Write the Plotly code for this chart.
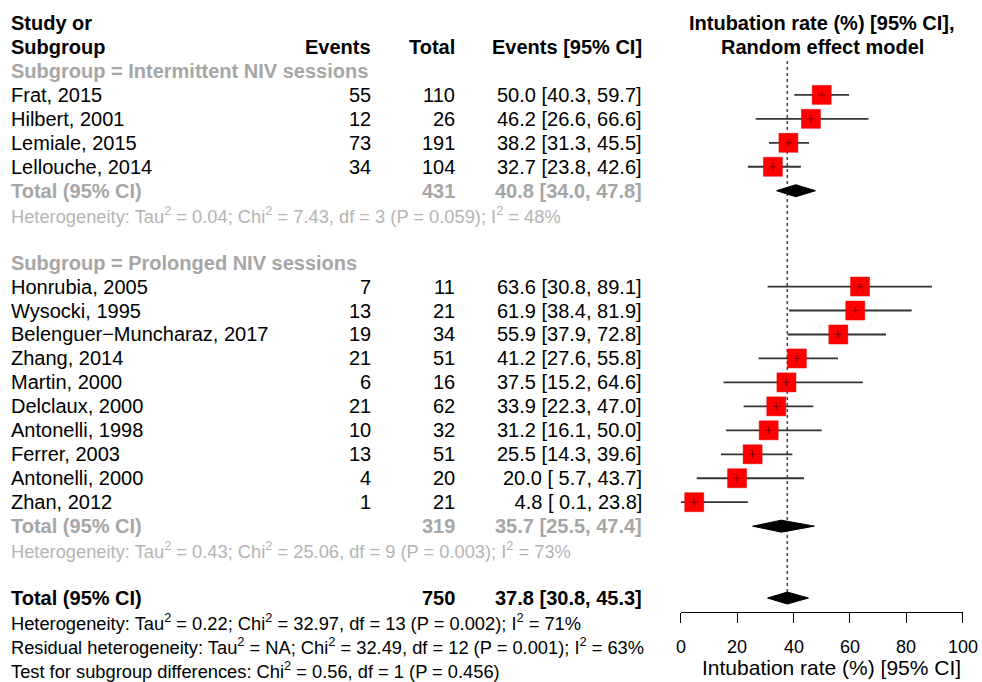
import plotly.graph_objects as go

# ---------------- data ----------------
studies1 = ["Frat, 2015", "Hilbert, 2001", "Lemiale, 2015", "Lellouche, 2014"]
events1 = [55, 12, 73, 34]
total1 = [110, 26, 191, 104]
est1 = [50.0, 46.2, 38.2, 32.7]
lo1 = [40.3, 26.6, 31.3, 23.8]
hi1 = [59.7, 66.6, 45.5, 42.6]

studies2 = ["Honrubia, 2005", "Wysocki, 1995", "Belenguer\u2212Muncharaz, 2017", "Zhang, 2014",
            "Martin, 2000", "Delclaux, 2000", "Antonelli, 1998", "Ferrer, 2003",
            "Antonelli, 2000", "Zhan, 2012"]
events2 = [7, 13, 19, 21, 6, 21, 10, 13, 4, 1]
total2 = [11, 21, 34, 51, 16, 62, 32, 51, 20, 21]
est2 = [63.6, 61.9, 55.9, 41.2, 37.5, 33.9, 31.2, 25.5, 20.0, 4.8]
lo2 = [30.8, 38.4, 37.9, 27.6, 15.2, 22.3, 16.1, 14.3, 5.7, 0.1]
hi2 = [89.1, 81.9, 72.8, 55.8, 64.6, 47.0, 50.0, 39.6, 43.7, 23.8]

sub_labels = ["Subgroup = Intermittent NIV sessions", "Subgroup = Prolonged NIV sessions"]
sub_total = [431, 319]
sub_est = [40.8, 35.7]
sub_lo = [34.0, 25.5]
sub_hi = [47.8, 47.4]
sub_het = [
    "Heterogeneity: Tau<sup>2</sup> = 0.04; Chi<sup>2</sup> = 7.43, df = 3 (P = 0.059); I<sup>2</sup> = 48%",
    "Heterogeneity: Tau<sup>2</sup> = 0.43; Chi<sup>2</sup> = 25.06, df = 9 (P = 0.003); I<sup>2</sup> = 73%",
]

all_total = 750
all_est = 37.8
all_lo = 30.8
all_hi = 45.3
bottom_lines = [
    "Heterogeneity: Tau<sup>2</sup> = 0.22; Chi<sup>2</sup> = 32.97, df = 13 (P = 0.002); I<sup>2</sup> = 71%",
    "Residual heterogeneity: Tau<sup>2</sup> = NA; Chi<sup>2</sup> = 32.49, df = 12 (P = 0.001); I<sup>2</sup> = 63%",
    "Test for subgroup differences: Chi<sup>2</sup> = 0.56, df = 1 (P = 0.456)",
]
x_ticks = [0, 20, 40, 60, 80, 100]

# ---------------- layout geometry ----------------
W, H = 982, 682
ROW0, ROWH = 23.0, 23.96          # pixel y of row 0, row height
FONT = "Liberation Sans, Arial, Helvetica, sans-serif"
FS = 20
FS_HET = 18.3
GRAY = "#a6a6a6"
GRAY_HET = "#b4b4b4"
X_STUDY, X_EV, X_TOT, X_EST = 8.5, 372.5, 456.5, 644
X0PX, X100PX = 680.7, 962.7
AXIS_Y = 612

def fmt(e, l, h):
    return f"{e:4.1f} [{l:4.1f}, {h:4.1f}]"

def rowy(px):
    return (px - ROW0) / ROWH

ann = []
def txt(x, row, s, align="left", bold=False, color="black", size=FS):
    if bold:
        s = f"<b>{s}</b>"
    ann.append(dict(x=x / W, y=row, xref="paper", yref="y", text=s,
                    showarrow=False, xanchor=align, yanchor="middle",
                    font=dict(family=FONT, size=size, color=color)))

# headers
txt(X_STUDY, 0, "Study or", bold=True)
txt(X_STUDY, 1, "Subgroup", bold=True)
txt(X_EV, 1, "Events", "right", True)
txt(X_TOT, 1, "Total", "right", True)
txt(X_EST, 1, "Events [95% CI]", "right", True)
txt(822, 0, "Intubation rate (%) [95% CI],", "center", True)
txt(822, 1, "Random effect model", "center", True)

groups = [
    (studies1, events1, total1, est1, lo1, hi1),
    (studies2, events2, total2, est2, lo2, hi2),
]
start_rows = [2, 10]

ci_x, ci_y, pt_x, pt_y = [], [], [], []
dia = []
for g, (names, ev, tot, es, lo, hi) in enumerate(groups):
    r = start_rows[g]
    txt(X_STUDY, r, sub_labels[g], bold=True, color=GRAY)
    for i in range(len(names)):
        rr = r + 1 + i
        txt(X_STUDY, rr, names[i])
        txt(X_EV, rr, str(ev[i]), "right")
        txt(X_TOT, rr, str(tot[i]), "right")
        txt(X_EST, rr, fmt(es[i], lo[i], hi[i]), "right")
        ci_x += [lo[i], hi[i], None]
        ci_y += [rr, rr, None]
        pt_x.append(es[i])
        pt_y.append(rr)
    rt = r + 1 + len(names)
    txt(X_STUDY, rt, "Total (95% CI)", bold=True, color=GRAY)
    txt(X_TOT, rt, str(sub_total[g]), "right", True, GRAY)
    txt(X_EST, rt, fmt(sub_est[g], sub_lo[g], sub_hi[g]), "right", True, GRAY)
    txt(X_STUDY, rt + 1, sub_het[g], color=GRAY_HET, size=FS_HET)
    dia.append((sub_lo[g], sub_est[g], sub_hi[g], rt))

r_all = 24
txt(X_STUDY, r_all, "Total (95% CI)", bold=True)
txt(X_TOT, r_all, str(all_total), "right", True)
txt(X_EST, r_all, fmt(all_est, all_lo, all_hi), "right", True)
for k, s in enumerate(bottom_lines):
    txt(X_STUDY, r_all + 1 + k, s, size=FS_HET)
dia.append((all_lo, all_est, all_hi, r_all))

# axis title
txt(831, rowy(667), "Intubation rate (%) [95% CI]", "center", size=21)

# tick labels placed on the x scale
for t in x_ticks:
    ann.append(dict(x=t, y=rowy(647), xref="x", yref="y", text=str(t),
                    showarrow=False, xanchor="center", yanchor="middle",
                    font=dict(family=FONT, size=18, color="black")))

fig = go.Figure()

# reference (dotted) line at overall estimate
fig.add_trace(go.Scatter(x=[all_est, all_est], y=[rowy(61), r_all - 0.25], mode="lines",
                         line=dict(color="#444444", width=1.5, dash="dot"),
                         hoverinfo="skip", cliponaxis=False))
# CI lines
fig.add_trace(go.Scatter(x=ci_x, y=ci_y, mode="lines",
                         line=dict(color="#333333", width=1.8),
                         hoverinfo="skip", cliponaxis=False))
# squares
fig.add_trace(go.Scatter(x=pt_x, y=pt_y, mode="markers",
                         marker=dict(symbol="square", size=19, color="#ff0000",
                                     line=dict(color="#e00000", width=0.5)),
                         cliponaxis=False))
# centre crosses
fig.add_trace(go.Scatter(x=pt_x, y=pt_y, mode="markers",
                         marker=dict(symbol="cross-thin", size=5,
                                     line=dict(color="#800000", width=1)),
                         cliponaxis=False))
# diamonds
for lo, es, hi, rr in dia:
    fig.add_trace(go.Scatter(x=[lo, es, hi, es, lo], y=[rr, rr - 0.25, rr, rr + 0.25, rr],
                             mode="lines", fill="toself", fillcolor="black",
                             line=dict(color="black", width=1), cliponaxis=False,
                             hoverinfo="skip"))

fig.update_layout(
    width=W, height=H, autosize=False,
    margin=dict(l=0, r=0, t=0, b=0),
    paper_bgcolor="white", plot_bgcolor="white",
    showlegend=False,
    annotations=ann,
    xaxis=dict(domain=[X0PX / W, X100PX / W], range=[0, 100], anchor="free",
               position=1 - AXIS_Y / H, showline=True, linecolor="black", linewidth=1,
               ticks="outside", ticklen=10, tickwidth=1, tickcolor="black",
               tickvals=x_ticks, showticklabels=False,
               showgrid=False, zeroline=False, fixedrange=True),
    yaxis=dict(domain=[0, 1], range=[rowy(H), rowy(0)], visible=False,
               showgrid=False, zeroline=False, fixedrange=True),
)

fig.write_html(
    "out.html",
    config={"responsive": False, "displayModeBar": False},
    post_script=(
        "document.documentElement.style.margin='0px';"
        "document.documentElement.style.overflow='hidden';"
        "document.body.style.margin='0px';document.body.style.overflow='hidden';"
    ),
)
